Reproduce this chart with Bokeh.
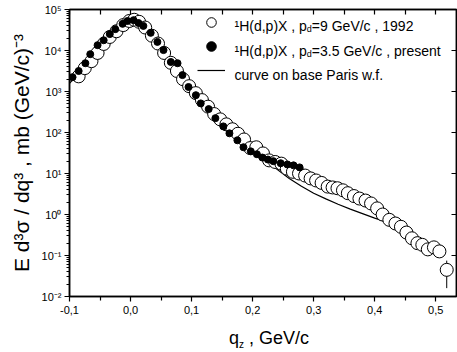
from bokeh.plotting import figure
from bokeh.layouts import column
from bokeh.models import (Range1d, FixedTicker, LinearAxis, LogAxis, Label,
                          Legend, LegendItem, Div)
from bokeh.embed import file_html
from bokeh.resources import INLINE

# ---------------- data ----------------
# 1H(d,p)X, pd = 9 GeV/c, 1992 (open circles)
open_x = [-0.085, -0.075, -0.064, -0.054, -0.044, -0.034, -0.023, -0.012, -0.002,
          0.006, 0.014, 0.024, 0.035, 0.045, 0.055, 0.066, 0.076, 0.086, 0.096,
          0.107, 0.117, 0.127, 0.137, 0.147, 0.157, 0.167, 0.176, 0.186, 0.196,
          0.206, 0.217, 0.227, 0.237, 0.247, 0.256, 0.266, 0.276, 0.286, 0.295,
          0.304, 0.313, 0.323, 0.331, 0.339, 0.348, 0.356, 0.366, 0.375, 0.385,
          0.394, 0.404, 0.413, 0.424, 0.434, 0.443, 0.452, 0.461, 0.470, 0.478,
          0.487, 0.497, 0.506, 0.518]
open_y = [2344, 3715, 5495, 8710, 14450, 21380, 29510, 41690, 52480,
          56230, 50120, 36310, 22910, 14790, 8710, 5012, 3162, 1995, 1349,
          912, 617, 427, 282, 209, 158, 120, 93.3, 67.6, 41.7,
          43.6, 30.9, 20.9, 19.1, 17.4, 13.2, 11.0, 10.0, 8.91, 7.59,
          6.76, 5.89, 4.79, 4.57, 4.37, 3.89, 3.31, 2.82, 2.45, 2.19,
          1.86, 1.41, 1.00, 0.741, 0.603, 0.501, 0.363, 0.263, 0.200, 0.182,
          0.141, 0.158, 0.126, 0.0447]

# 1H(d,p)X, pd = 3.5 GeV/c, present (filled circles)
filled_x = [-0.095, -0.085, -0.074, -0.066, -0.054, -0.044, -0.034, -0.025, -0.013,
            -0.005, 0.005, 0.013, 0.021, 0.033, 0.044, 0.054, 0.066, 0.077, 0.085,
            0.095, 0.107, 0.115, 0.128, 0.139, 0.152, 0.162, 0.175, 0.185, 0.197,
            0.207, 0.216, 0.225, 0.234, 0.246, 0.257, 0.267, 0.277]
filled_y = [2239, 3162, 4898, 8128, 13490, 17780, 25120, 33110, 44670,
            52480, 54950, 46770, 39810, 26920, 16220, 10230, 5248, 4898, 2512,
            1288, 813, 513, 372, 224, 141, 95.5, 64.6, 43.7, 34.7,
            29.5, 24.5, 21.9, 20.0, 17.8, 16.6, 15.8, 14.1]

# curve on base Paris w.f.
curve_x = [-0.10, -0.08, -0.06, -0.04, -0.02, 0.00, 0.01, 0.02, 0.04, 0.06, 0.08,
           0.10, 0.12, 0.14, 0.16, 0.18, 0.20, 0.22, 0.24, 0.26, 0.28, 0.30,
           0.32, 0.34, 0.36, 0.38, 0.40, 0.42, 0.44, 0.46, 0.48, 0.50]
curve_y = [1585, 3311, 7244, 16600, 33110, 52480, 53700, 42660, 18200, 6918, 2754,
           1148, 550, 263, 132, 69.2, 35.5, 20.9, 12.6, 7.59, 4.90, 3.31,
           2.40, 1.78, 1.35, 1.05, 0.813, 0.646, 0.479, 0.331, 0.224, 0.141]

# error bar of the last open point
err_x = [0.518]
err_lo = [0.016]
err_hi = [0.075]

x_ticks = [-0.1, 0.0, 0.1, 0.2, 0.3, 0.4, 0.5]
x_tick_labels = ["-0,1", "0,0", "0,1", "0,2", "0,3", "0,4", "0,5"]
x_minor = [-0.05, 0.05, 0.15, 0.25, 0.35, 0.45]
y_ticks = [1e-2, 1e-1, 1.0, 1e1, 1e2, 1e3, 1e4, 1e5]
y_tick_labels = ["10\u207b\u00b2", "10\u207b\u00b9", "10\u2070", "10\u00b9",
                 "10\u00b2", "10\u00b3", "10\u2074", "10\u2075"]

legend_rows = [
    ("\u00b9H(d,p)X , p", "d", "=9 GeV/c , 1992"),
    ("\u00b9H(d,p)X , p", "d", "=3.5 GeV/c , present"),
    ("curve on base Paris w.f.", "", ""),
]
x_title = ("q", "z", " , GeV/c")
y_title = "E d\u00b3\u03c3 / dq\u00b3 , mb (GeV/c)\u207b\u00b3"

# ---------------- styling helpers ----------------
FONT = "Liberation Sans"
W = {' ': 278, ',': 278, '.': 278, '(': 333, ')': 333, '/': 278, '=': 584,
     'H': 722, 'X': 667, 'G': 778, 'V': 667, 'P': 667, 'E': 667,
     'a': 556, 'b': 556, 'c': 500, 'd': 556, 'e': 556, 'f': 278, 'i': 222,
     'n': 556, 'o': 556, 'p': 556, 'q': 556, 'r': 333, 's': 500, 't': 278,
     'u': 556, 'v': 500, 'w': 722, 'z': 500, '\u00b9': 333}


def tw(s, size):
    return sum(W.get(c, 556) for c in s) * size / 1000.0


CW = 457
H_MAIN, H_TITLE = 320, 32
BL, BR, BT, BB = 69, 1, 9, 24

p = figure(width=CW, height=H_MAIN, output_backend="svg", toolbar_location=None,
           y_axis_type="log", x_range=Range1d(-0.1, 0.534), y_range=Range1d(1e-2, 1e5),
           min_border_left=BL, min_border_right=BR, min_border_top=BT, min_border_bottom=BB)
p.grid.visible = False
p.outline_line_color = "black"
p.outline_line_width = 1.5
p.background_fill_color = "white"
p.border_fill_color = "white"

# bottom axis
xa = p.xaxis[0]
xa.ticker = FixedTicker(ticks=x_ticks, minor_ticks=x_minor)
xa.major_label_overrides = {t: l for t, l in zip(x_ticks, x_tick_labels)}
xa.major_tick_in = 0
xa.major_tick_out = 5
xa.minor_tick_in = 0
xa.minor_tick_out = 4
xa.axis_line_width = 1.5
xa.major_tick_line_width = 1.2
xa.minor_tick_line_width = 1.2
xa.major_label_text_font = FONT
xa.major_label_text_font_size = "11px"
xa.major_label_text_color = "black"
xa.major_label_standoff = 4

# left axis
ya = p.yaxis[0]
ya.ticker = FixedTicker(ticks=y_ticks,
                        minor_ticks=[k * 10.0 ** e for e in range(-2, 5) for k in range(2, 10)])
ya.major_label_overrides = {t: l for t, l in zip(y_ticks, y_tick_labels)}
ya.major_tick_in = 0
ya.major_tick_out = 5
ya.minor_tick_in = 0
ya.minor_tick_out = 3
ya.axis_line_width = 1.5
ya.major_tick_line_width = 1.2
ya.major_label_text_font = FONT
ya.major_label_text_font_size = "11px"
ya.major_label_text_color = "black"
ya.major_label_standoff = 3
ya.axis_label = y_title
ya.axis_label_text_font = FONT
ya.axis_label_text_font_size = "21px"
ya.axis_label_text_font_style = "normal"
ya.axis_label_text_color = "black"
ya.axis_label_standoff = 6

# top and right mirror axes: only (minor) ticks inside, no labels
top = LinearAxis(ticker=FixedTicker(ticks=[], minor_ticks=sorted(x_ticks + x_minor)),
                 minor_tick_in=5, minor_tick_out=0, major_tick_line_color=None,
                 major_label_standoff=0, axis_line_width=1.5, minor_tick_line_width=1.2)
p.add_layout(top, "above")
right = LogAxis(ticker=FixedTicker(ticks=[], minor_ticks=y_ticks),
                minor_tick_in=5, minor_tick_out=0, major_tick_line_color=None,
                major_label_standoff=0, axis_line_width=1.5, minor_tick_line_width=1.2)
p.add_layout(right, "right")

# glyphs
r_line = p.line(curve_x, curve_y, line_color="black", line_width=1.2)
p.segment(x0=err_x, y0=err_lo, x1=err_x, y1=err_hi, line_color="black", line_width=1)
r_open = p.scatter(open_x, open_y, marker="circle", size=13, fill_color="white",
                   line_color="black", line_width=1)
r_fill = p.scatter(filled_x, filled_y, marker="circle", size=7, fill_color="black",
                   line_color="black", line_width=1)

# legend icons
legend = Legend(items=[LegendItem(label=" ", renderers=[r_open]),
                       LegendItem(label=" ", renderers=[r_fill]),
                       LegendItem(label=" ", renderers=[r_line])],
                location=(128, 214), orientation="vertical",
                glyph_width=28, glyph_height=24, spacing=0, padding=0, margin=0,
                label_standoff=0, label_width=1, label_height=24,
                label_text_font_size="8px",
                background_fill_alpha=0, border_line_alpha=0)
p.add_layout(legend)

# legend texts
frame_bottom = H_MAIN - BB
LFS = 14
row_base = [25, 50, 74]
text_x0 = 234
for (main, sub, rest), base in zip(legend_rows, row_base):
    x = text_x0 - BL
    y = frame_bottom - base
    p.add_layout(Label(x=x, y=y, x_units="screen", y_units="screen", text=main,
                       text_font=FONT, text_font_size=f"{LFS}px", text_baseline="alphabetic",
                       text_color="black"))
    x += tw(main, LFS)
    if sub:
        p.add_layout(Label(x=x, y=y - 3, x_units="screen", y_units="screen", text=sub,
                           text_font=FONT, text_font_size="9px", text_baseline="alphabetic",
                           text_color="black"))
        x += tw(sub, 9)
    if rest:
        p.add_layout(Label(x=x, y=y, x_units="screen", y_units="screen", text=rest,
                           text_font=FONT, text_font_size=f"{LFS}px", text_baseline="alphabetic",
                           text_color="black"))

# x axis title (with subscript) as a text block under the plot
q, zsub, rest = x_title
title_html = (f'{q}<span style="font-size:10px;position:relative;top:4px;">{zsub}</span>'
              f'{rest.replace(" ", "&nbsp;", 1)}')
TX = 229
title_div = Div(text=title_html, width=CW - TX, height=H_TITLE - 8,
                margin=(8, 0, 0, TX),
                styles={"font-family": FONT, "font-size": "18px", "color": "black",
                        "line-height": "20px", "white-space": "nowrap"})

layout = column(p, title_div, spacing=0)
open("out.html", "w").write(file_html(layout, INLINE))
